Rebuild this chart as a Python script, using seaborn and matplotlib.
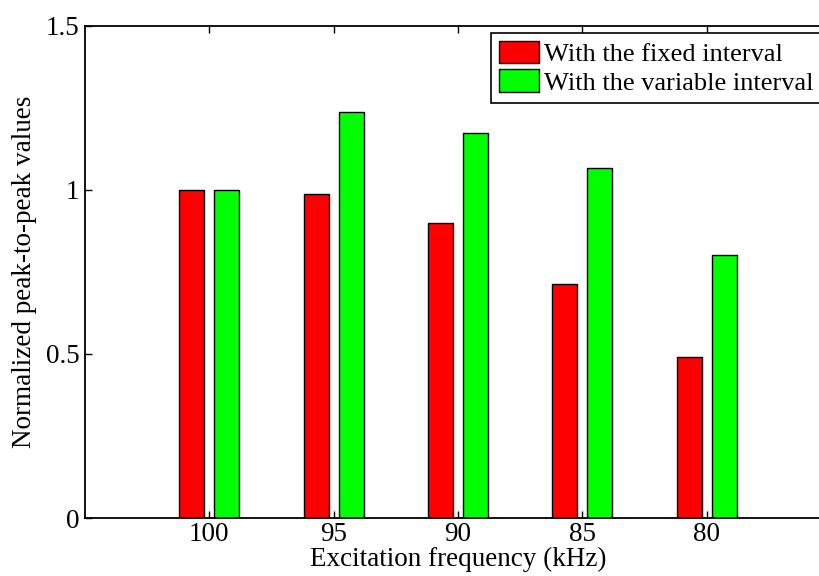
import pandas as pd
import seaborn as sns
import matplotlib
matplotlib.use("Agg")
import matplotlib.pyplot as plt

# values
freqs = ["100", "95", "90", "85", "80"]
fixed_interval = [1.0, 0.986, 0.899, 0.714, 0.489]
variable_interval = [1.0, 1.238, 1.172, 1.065, 0.801]
series_names = ["With the fixed interval", "With the variable interval"]
colors = ["#FF0000", "#00FF00"]

df = pd.DataFrame({
    "freq": freqs * 2,
    "value": fixed_interval + variable_interval,
    "series": [series_names[0]] * len(freqs) + [series_names[1]] * len(freqs),
})

sns.set_style("ticks")
plt.rcParams["font.family"] = ["Liberation Serif", "DejaVu Serif"]
plt.rcParams["text.color"] = "black"
plt.rcParams["axes.labelcolor"] = "black"
plt.rcParams["xtick.color"] = "black"
plt.rcParams["ytick.color"] = "black"
fs = 19.5

fig = plt.figure(figsize=(8.2, 5.76), dpi=100)
# axes runs slightly past the right edge, like the cropped original
ax = fig.add_axes([85 / 820, 58 / 576, 746 / 820, 492.5 / 576])

sns.barplot(data=df, x="freq", y="value", hue="series", order=freqs,
            hue_order=series_names, palette=colors, saturation=1,
            width=0.56, gap=0.286, edgecolor="black", linewidth=1, ax=ax)

ax.set_xlim(-1, 5)
ax.set_ylim(0, 1.5)
ax.set_yticks([0, 0.5, 1, 1.5])
ax.set_yticklabels(["0", "0.5", "1", "1.5"])
ax.tick_params(direction="in", length=5, width=1, labelsize=fs,
               top=True, right=True, pad=4)
ax.tick_params(axis="x", pad=3)
for s in ax.spines.values():
    s.set_linewidth(1.3)
    s.set_color("black")

ax.set_xlabel("Excitation frequency (kHz)", fontsize=fs, labelpad=0)
ax.set_ylabel("Normalized peak-to-peak values", fontsize=fs, labelpad=6)

handles, labels = ax.get_legend_handles_labels()
ax.legend(handles, labels, loc="upper left",
          bbox_to_anchor=((491 - 85) / 746, (518 - 32.7) / 492.5),
          borderaxespad=0, frameon=True, fancybox=False, framealpha=1,
          edgecolor="black", fontsize=19, handlelength=1.5, handleheight=0.95,
          handletextpad=0.22, borderpad=0.3, labelspacing=0.12)
ax.get_legend().get_frame().set_linewidth(1.2)

fig.savefig("out.png", dpi=100)
